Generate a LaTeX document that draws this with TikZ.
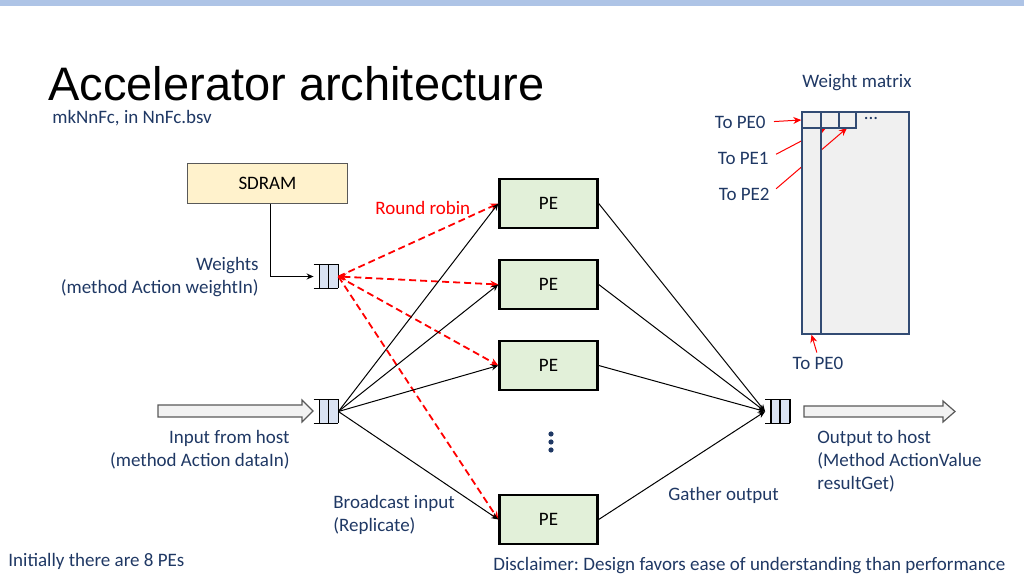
\documentclass[tikz,border=0pt]{standalone}
\usepackage{fontspec}
\setmainfont{Carlito}
\newfontfamily\titlefont{Liberation Sans}
\frenchspacing
\usetikzlibrary{arrows.meta}
\definecolor{navy}{RGB}{31,56,100}
\definecolor{topbar}{RGB}{174,196,230}
\definecolor{sdramfill}{RGB}{255,242,204}
\definecolor{pefill}{RGB}{226,240,217}
\definecolor{queuefill}{RGB}{218,227,243}
\definecolor{hostfill}{RGB}{242,242,242}
\definecolor{matrixfill}{RGB}{240,240,240}
\definecolor{matrixedge}{RGB}{50,75,115}

\begin{document}
\begin{tikzpicture}[x=0.5pt, y=-0.5pt,
                    >={Stealth[length=3.5pt, width=3pt]},
                    font=\fontsize{9.5}{11.5}\selectfont,
                    note/.style={text=navy, inner sep=0pt},
                    memory/.style={rectangle, draw=black!65, fill=sdramfill,
                                   minimum width=80pt, minimum height=20pt},
                    pe/.style={rectangle, draw, line width=1.2pt, fill=pefill,
                               minimum width=49pt, minimum height=24.5pt},
                    queue/.style={rectangle, inner sep=0pt,
                                  minimum width=12pt, minimum height=11.5pt},
                    host/.style={draw=black!65, fill=hostfill, line width=0.6pt},
                    cell/.style={rectangle, draw=matrixedge, fill=matrixfill,
                                 line width=0.7pt, inner sep=0pt},
                    broadcast/.style={->, line width=0.5pt},
                    roundrobin/.style={->, red, line width=0.9pt,
                                       dash pattern=on 3.5pt off 2pt,
                                       >={Stealth[length=4pt, width=3.5pt]}},
                    pointer/.style={->, red, line width=0.5pt,
                                    >={Stealth[length=4pt, width=3.5pt]}}]
  \useasboundingbox (0, 0) rectangle (1024, 576);
  \fill [topbar] (0, 0) rectangle (1024, 6);

  % Headings.
  \node at (48, 101) [anchor=base west, inner sep=0pt,
                      font=\titlefont\fontsize{23.5}{28}\selectfont,
                      name=Title] {Accelerator architecture};
  \node at (52, 118) [note, anchor=west, name=Source] {mkNnFc, in NnFc.bsv};

  % Memory, queues and host links.
  \node at (267.5, 183.5) [memory, name=SDRAM] {SDRAM};
  \node at (326, 276.5) [queue, name=WeightQueue] {};
  \node at (326, 411.5) [queue, name=InputQueue] {};
  \node at (777.5, 411.5) [queue, name=OutputQueue] {};
  \draw [host] (158, 405) -- (302, 405) -- (302, 400) -- (313, 411)
               -- (302, 422) -- (302, 417) -- (158, 417) -- cycle;
  \draw [host] (804, 406) -- (943, 406) -- (943, 401) -- (955, 411.5)
               -- (943, 422) -- (943, 417) -- (804, 417) -- cycle;

  \foreach \q in {WeightQueue, InputQueue, OutputQueue} {
    \fill [queuefill] ([xshift=3pt]\q.north west) rectangle (\q.south east);
    \draw [line width=0.7pt] (\q.north west) -- (\q.north east) -- (\q.south east)
          (\q.south west) -- (\q.south east)
          ([xshift=3pt]\q.north west) -- ([xshift=3pt]\q.south west)
          ([xshift=7.5pt]\q.north west) -- ([xshift=7.5pt]\q.south west);
  }

  % Processing elements.
  \node at (548.5, 203.5) [pe, name=FirstPE] {PE};
  \node at (548.5, 284.5) [pe, name=SecondPE] {PE};
  \node at (548.5, 365.5) [pe, name=ThirdPE] {PE};
  \node at (548.5, 519.5) [pe, name=LastPE] {PE};
  \fill [navy] (551, 434) circle (1.3pt) (551, 442) circle (1.3pt)
               (551, 450) circle (1.3pt);

  % Weights from memory.
  \draw [->, line width=0.6pt] ([xshift=1.5pt]SDRAM.south) |- (WeightQueue.west);
  \draw [roundrobin] (WeightQueue.east) to (FirstPE.west);
  \draw [roundrobin, <->] (WeightQueue.east) to (SecondPE.west);
  \draw [roundrobin] (WeightQueue.east) to (ThirdPE.west);
  \draw [roundrobin] (WeightQueue.east) to (LastPE.west);

  % Broadcast input.
  \draw [broadcast] (InputQueue.east) to (FirstPE.west);
  \draw [broadcast] (InputQueue.east) to (SecondPE.west);
  \draw [broadcast] (InputQueue.east) to (ThirdPE.west);
  \draw [broadcast] (InputQueue.east) to (LastPE.west);

  % Gather output.
  \draw [broadcast] (FirstPE.east) to (OutputQueue.west);
  \draw [broadcast] (SecondPE.east) to (OutputQueue.west);
  \draw [broadcast] (ThirdPE.east) to (OutputQueue.west);
  \draw [broadcast] (LastPE.east) to (OutputQueue.west);

  % Labels.
  \node at (375, 208) [note, anchor=west, text=red, name=RoundRobin] {Round robin};
  \node at (259, 277.5) [note, anchor=east, align=right, name=WeightsNote]
        {Weights\\(method Action weightIn)};
  \node at (290, 449.5) [note, anchor=east, align=right, name=InputNote]
        {Input from host\\(method Action dataIn)};
  \node at (333, 514.5) [note, anchor=west, align=left, name=BroadcastNote]
        {Broadcast input\\(Replicate)};
  \node at (668, 495) [note, anchor=west, name=GatherNote] {Gather output};
  \node at (817, 461.5) [note, anchor=west, align=left, name=OutputNote]
        {Output to host\\(Method ActionValue\\resultGet)};
  \node at (8, 561) [note, anchor=west, name=CountNote] {Initially there are 8 PEs};
  \node at (493, 566) [note, anchor=west, name=Disclaimer]
        {Disclaimer: Design favors ease of understanding than performance};

  % Weight matrix.
  \node at (857, 83) [note, name=MatrixTitle] {Weight matrix};
  \node at (855.5, 223) [cell, minimum width=53.5pt, minimum height=111pt,
                         name=Matrix] {};
  \coordinate (SecondCellFoot) at (826, 128);
  \coordinate (ThirdCellFoot) at (847, 128);
  \node at (766, 122) [note, anchor=east, name=ToFirst] {To PE0};
  \node at (769, 158) [note, anchor=east, name=ToSecond] {To PE1};
  \node at (770, 194) [note, anchor=east, name=ToThird] {To PE2};
  \node at (818, 363) [note, name=ToFirstColumn] {To PE0};
  \draw [pointer, shorten <=4pt] (ToSecond.east) to (SecondCellFoot);
  \draw [pointer, shorten <=4pt] (ToThird.east) to (ThirdCellFoot);
  \node at (811.5, 223) [cell, minimum width=9.5pt, minimum height=111pt,
                         name=Column] {};
  \node at (811.5, 120) [cell, minimum width=9.5pt, minimum height=8pt,
                         name=FirstCell] {};
  \node at (830, 120) [cell, minimum width=9pt, minimum height=8pt,
                       name=SecondCell] {};
  \node at (847.5, 120) [cell, minimum width=8.5pt, minimum height=8pt,
                         name=ThirdCell] {};
  \node at (871, 119) [note, name=MoreCells] {...};
  \draw [pointer, shorten <=4pt] (ToFirst.east) to (FirstCell.west);
  \draw [pointer, shorten <=2pt] (ToFirstColumn.north) to (Column.south);
\end{tikzpicture}
\end{document}
